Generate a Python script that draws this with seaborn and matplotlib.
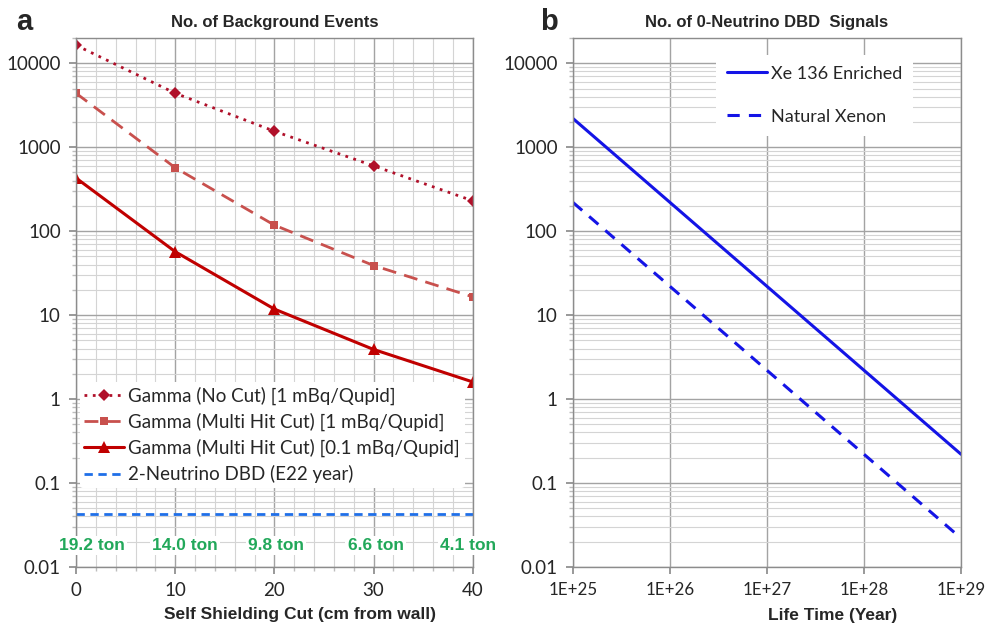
import numpy as np
import pandas as pd
import matplotlib
matplotlib.use("Agg")
import matplotlib.pyplot as plt
import seaborn as sns
from matplotlib.ticker import FixedLocator, MultipleLocator, LogLocator, FuncFormatter, NullFormatter

# ---- data ----
cut_cm = [0, 10, 20, 30, 40]
gamma_nocut = [16400, 4400, 1550, 600, 230]
gamma_multi_1 = [4400, 570, 118, 39, 16.5]
gamma_multi_01 = [430, 57, 11.8, 3.9, 1.6]
two_nu_dbd = [0.043, 0.043, 0.043, 0.043, 0.043]
ton_labels = ["19.2 ton", "14.0 ton", "9.8 ton", "6.6 ton", "4.1 ton"]
ton_x = [1.6, 11.0, 20.2, 30.2, 39.5]

lifetime = [1e25, 1e26, 1e27, 1e28, 1e29]
xe136_enriched = [2200, 220, 22, 2.2, 0.22]
natural_xenon = [220, 22, 2.2, 0.22, 0.022]
lifetime_labels = ["1E+25", "1E+26", "1E+27", "1E+28", "1E+29"]

sns.set_theme(style="white")
plt.rcParams['font.family'] = ['Lato', 'DejaVu Sans']

fig = plt.figure(figsize=(9.87, 6.29), dpi=100)
axa = fig.add_axes([0.077, 0.0986, 0.402, 0.841])
axb = fig.add_axes([0.5805, 0.0986, 0.3932, 0.841])

major_c = "#a3a3a3"
minor_c = "#d4d4d4"
narrow = ['Liberation Sans Narrow', 'Liberation Sans', 'DejaVu Sans']

def style_axis(ax):
    ax.set_yscale("log")
    ax.set_ylim(0.01, 20000)
    ax.yaxis.set_major_locator(FixedLocator([0.01, 0.1, 1, 10, 100, 1000, 10000]))
    ax.yaxis.set_major_formatter(FuncFormatter(lambda v, p: f"{v:g}"))
    ax.yaxis.set_minor_locator(LogLocator(base=10, subs=np.arange(2, 10), numticks=20))
    ax.yaxis.set_minor_formatter(NullFormatter())
    ax.grid(True, which="major", color=major_c, lw=1.0, zorder=0)
    ax.grid(True, which="minor", axis="y", color=minor_c, lw=0.8, zorder=0)
    for s in ax.spines.values():
        s.set_color("#8c8c8c")
        s.set_linewidth(1.0)
    ax.tick_params(axis="both", which="major", labelsize=13.5, color="#8c8c8c",
                   length=5, direction="out", left=True, bottom=True)
    ax.tick_params(axis="y", which="major", pad=6)
    ax.tick_params(axis="x", which="major", pad=6)
    ax.tick_params(axis="y", which="minor", color="#bdbdbd", length=3, left=True)
    ax.set_axisbelow(True)

# ---- panel a ----
df_a = pd.DataFrame({"x": cut_cm, "nocut": gamma_nocut, "m1": gamma_multi_1,
                     "m01": gamma_multi_01, "nu2": two_nu_dbd})
sns.lineplot(data=df_a, x="x", y="nocut", ax=axa, color="#b0102a", lw=2, ls=(0, (1, 2)),
             marker="D", markersize=6, markeredgewidth=0,
             label="Gamma (No Cut) [1 mBq/Qupid]")
sns.lineplot(data=df_a, x="x", y="m1", ax=axa, color="#c8504d", lw=2, ls=(0, (5, 3)),
             marker="s", markersize=6, markeredgewidth=0,
             label="Gamma (Multi Hit Cut) [1 mBq/Qupid]")
sns.lineplot(data=df_a, x="x", y="m01", ax=axa, color="#c00000", lw=2.2, ls="-",
             marker="^", markersize=8, markeredgewidth=0,
             label="Gamma (Multi Hit Cut) [0.1 mBq/Qupid]")
sns.lineplot(data=df_a, x="x", y="nu2", ax=axa, color="#1f6fe8", lw=2, ls=(0, (3, 2)),
             label="2-Neutrino DBD (E22 year)")
style_axis(axa)
axa.set_xlim(0, 40)
axa.xaxis.set_major_locator(MultipleLocator(10))
axa.xaxis.set_minor_locator(MultipleLocator(2))
axa.grid(True, which="minor", axis="x", color=minor_c, lw=0.8, zorder=0)
axa.tick_params(axis="x", which="minor", color="#bdbdbd", length=3, bottom=True)
for xs, lab in zip(ton_x, ton_labels):
    axa.text(xs, 0.018, lab, color="#22a85a", fontsize=12.5, fontweight="bold",
             family=narrow, ha="center", va="center", zorder=3,
             bbox=dict(facecolor="white", edgecolor="none", pad=1.5))
axa.set_title("No. of Background Events", fontsize=12, fontweight="bold",
              family=narrow, pad=8)
axa.set_xlabel("Self Shielding Cut (cm from wall)", fontsize=12.5, fontweight="bold",
               family=narrow)
axa.xaxis.set_label_coords(0.565, -0.075)
axa.set_ylabel("")
leg = axa.legend(loc="upper left", bbox_to_anchor=(0.0, 0.357), frameon=True,
                 fontsize=13.5, handlelength=2.1, handletextpad=0.25, labelspacing=0.42,
                 borderaxespad=0.2, borderpad=0.25)
leg.get_frame().set_facecolor("white")
leg.get_frame().set_edgecolor("none")
leg.get_frame().set_alpha(1)
leg.set_zorder(5)

# ---- panel b ----
df_b = pd.DataFrame({"t": lifetime, "enr": xe136_enriched, "nat": natural_xenon})
sns.lineplot(data=df_b, x="t", y="enr", ax=axb, color="#1414e6", lw=2.2, ls="-",
             label="Xe 136 Enriched")
sns.lineplot(data=df_b, x="t", y="nat", ax=axb, color="#1414e6", lw=2.2, ls=(0, (4, 3)),
             label="Natural Xenon")
style_axis(axb)
axb.set_xscale("log")
axb.set_xlim(1e25, 1e29)
axb.set_xticks(lifetime)
axb.set_xticklabels(lifetime_labels)
axb.xaxis.set_minor_locator(FixedLocator([]))
axb.tick_params(axis="x", which="major", labelsize=12.2)
axb.set_title("No. of 0-Neutrino DBD  Signals", fontsize=12, fontweight="bold",
              family=narrow, pad=8)
axb.set_xlabel("Life Time (Year)", fontsize=12.5, fontweight="bold", family=narrow)
axb.xaxis.set_label_coords(0.67, -0.078)
axb.set_ylabel("")
legb = axb.legend(loc="upper left", bbox_to_anchor=(0.36, 0.975), frameon=True,
                  fontsize=13, handlelength=2.2, handletextpad=0.25, labelspacing=1.5,
                  borderaxespad=0.2, borderpad=0.6)
legb.get_frame().set_facecolor("white")
legb.get_frame().set_edgecolor("none")
legb.get_frame().set_alpha(1)

fig.text(0.016, 0.965, "a", fontsize=21, fontweight="bold", family=['Liberation Sans', 'DejaVu Sans'], va="center")
fig.text(0.547, 0.965, "b", fontsize=21, fontweight="bold", family=['Liberation Sans', 'DejaVu Sans'], va="center")

fig.savefig("out.png", dpi=100)
